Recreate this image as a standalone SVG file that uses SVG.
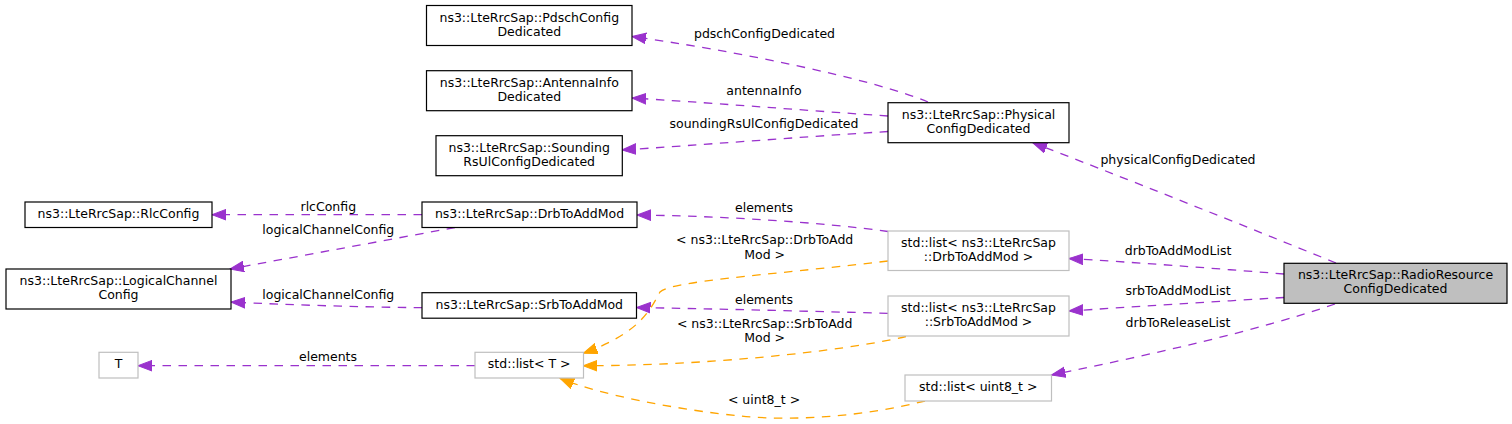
<svg xmlns="http://www.w3.org/2000/svg" width="1512" height="424" viewBox="0 0 1512 424">
<defs>
<style>
text{font-family:"DejaVu Sans","Liberation Sans",sans-serif;font-size:12.5px;fill:#000;text-anchor:middle}
.n{fill:#fff;stroke:#000;stroke-width:1.2}
.u{fill:#fff;stroke:#bfbfbf;stroke-width:1.2}
.r{fill:#bfbfbf;stroke:#000;stroke-width:1.2}
.p{fill:none;stroke:#9a32cd;stroke-width:1.3;stroke-dasharray:8.5,7.5;marker-end:url(#ap)}
.o{fill:none;stroke:#ffa500;stroke-width:1.3;stroke-dasharray:8.5,7.5;marker-end:url(#ao)}
</style>
<marker id="ap" markerWidth="16" markerHeight="12" refX="14" refY="6" orient="auto" markerUnits="userSpaceOnUse"><path d="M0,0.7 L14,6 L0,11.3 z" fill="#9a32cd" stroke="#9a32cd" stroke-width="1"/></marker>
<marker id="ao" markerWidth="16" markerHeight="12" refX="14" refY="6" orient="auto" markerUnits="userSpaceOnUse"><path d="M0,0.7 L14,6 L0,11.3 z" fill="#ffa500" stroke="#ffa500" stroke-width="1"/></marker>
</defs>

<g id="connectors">
<path class="p" d="M928,102 C870,78 730,50 632,36.5"/>
<text x="764.5" y="38.3">pdschConfigDedicated</text>
<path class="p" d="M888,116 C800,110 700,102 632,98"/>
<text x="764" y="95">antennaInfo</text>
<path class="p" d="M888,131.5 C800,137 700,145 622,150"/>
<text x="764" y="128.3">soundingRsUlConfigDedicated</text>
<path class="p" d="M1336,263 C1250,228 1110,172 1033,143"/>
<text x="1178" y="164">physicalConfigDedicated</text>
<path class="p" d="M1284,274 C1210,268 1130,262 1069,258.5"/>
<text x="1178" y="255">drbToAddModList</text>
<path class="p" d="M1284,297.5 C1210,302 1130,307 1069,311"/>
<text x="1178" y="295">srbToAddModList</text>
<path class="p" d="M1335,304 C1260,330 1150,355 1051.5,375"/>
<text x="1178" y="326.7">drbToReleaseList</text>
<path class="p" d="M422,214.7 L212,214.7"/>
<text x="328.3" y="210.7">rlcConfig</text>
<path class="p" d="M455,227.5 L230,269"/>
<text x="328.3" y="234">logicalChannelConfig</text>
<path class="p" d="M422,307.7 C360,307 290,305 231,302"/>
<text x="328.3" y="299">logicalChannelConfig</text>
<path class="p" d="M888,231.5 C820,222 720,216 637,215"/>
<text x="764" y="211.7">elements</text>
<path class="p" d="M888,313.3 C800,311 720,309 636.5,307.5"/>
<text x="764" y="303.7">elements</text>
<path class="p" d="M475,365.7 L138,365.7"/>
<text x="328" y="360.7">elements</text>
<path class="o" d="M888,261 C760,276 672,281 660,292 C650,310 640,333 583.3,353.3"/>
<text x="764.7" y="244.3">&lt; ns3::LteRrcSap::DrbToAdd</text>
<text x="764.7" y="259">Mod &gt;</text>
<path class="o" d="M906,336.5 C840,352 700,366 583.3,365.7"/>
<text x="764.7" y="327.7">&lt; ns3::LteRrcSap::SrbToAdd</text>
<text x="764.7" y="342.3">Mod &gt;</text>
<path class="o" d="M925,401 C870,415 800,422 740,416 C680,410 600,395 560,378.3"/>
<text x="764" y="404">&lt; uint8_t &gt;</text>
</g>

<g id="node-rr"><rect class="r" x="1284" y="263.3" width="223" height="40"/><text x="1395.5" y="279.3">ns3::LteRrcSap::RadioResource</text><text x="1395.5" y="293.3">ConfigDedicated</text></g>
<g id="node-pdsch"><rect class="n" x="426.5" y="5.5" width="205.5" height="40"/><text x="529.3" y="21.5">ns3::LteRrcSap::PdschConfig</text><text x="529.3" y="35.5">Dedicated</text></g>
<g id="node-antenna"><rect class="n" x="426.5" y="70.7" width="205.5" height="40"/><text x="529.3" y="86.7">ns3::LteRrcSap::AntennaInfo</text><text x="529.3" y="100.7">Dedicated</text></g>
<g id="node-sounding"><rect class="n" x="436" y="135.7" width="186.3" height="40"/><text x="529.2" y="151.7">ns3::LteRrcSap::Sounding</text><text x="529.2" y="165.7">RsUlConfigDedicated</text></g>
<g id="node-physical"><rect class="n" x="888" y="102.7" width="181" height="40"/><text x="978.5" y="118.7">ns3::LteRrcSap::Physical</text><text x="978.5" y="132.7">ConfigDedicated</text></g>
<g id="node-rlc"><rect class="n" x="25" y="202" width="187" height="25.5"/><text x="118.5" y="218.3">ns3::LteRrcSap::RlcConfig</text></g>
<g id="node-logical"><rect class="n" x="6" y="269" width="225" height="40"/><text x="118.5" y="285">ns3::LteRrcSap::LogicalChannel</text><text x="118.5" y="299">Config</text></g>
<g id="node-drb"><rect class="n" x="422" y="202" width="215" height="25.5"/><text x="529.5" y="217.8">ns3::LteRrcSap::DrbToAddMod</text></g>
<g id="node-srb"><rect class="n" x="422" y="292.7" width="214.5" height="25.5"/><text x="529.3" y="308.5">ns3::LteRrcSap::SrbToAddMod</text></g>
<g id="node-t"><rect class="u" x="99" y="352.3" width="39" height="25.7"/><text x="118.5" y="368.3">T</text></g>
<g id="node-listt"><rect class="u" x="475" y="352.3" width="108.5" height="25.7"/><text x="529.2" y="368.3">std::list&lt; T &gt;</text></g>
<g id="node-listdrb"><rect class="u" x="888" y="231" width="181" height="39.5"/><text x="978.5" y="247">std::list&lt; ns3::LteRrcSap</text><text x="978.5" y="261">::DrbToAddMod &gt;</text></g>
<g id="node-listsrb"><rect class="u" x="888" y="296" width="181" height="40"/><text x="978.5" y="312">std::list&lt; ns3::LteRrcSap</text><text x="978.5" y="326">::SrbToAddMod &gt;</text></g>
<g id="node-listu8"><rect class="u" x="905" y="375" width="146.5" height="26"/><text x="978.3" y="391">std::list&lt; uint8_t &gt;</text></g>
</svg>
